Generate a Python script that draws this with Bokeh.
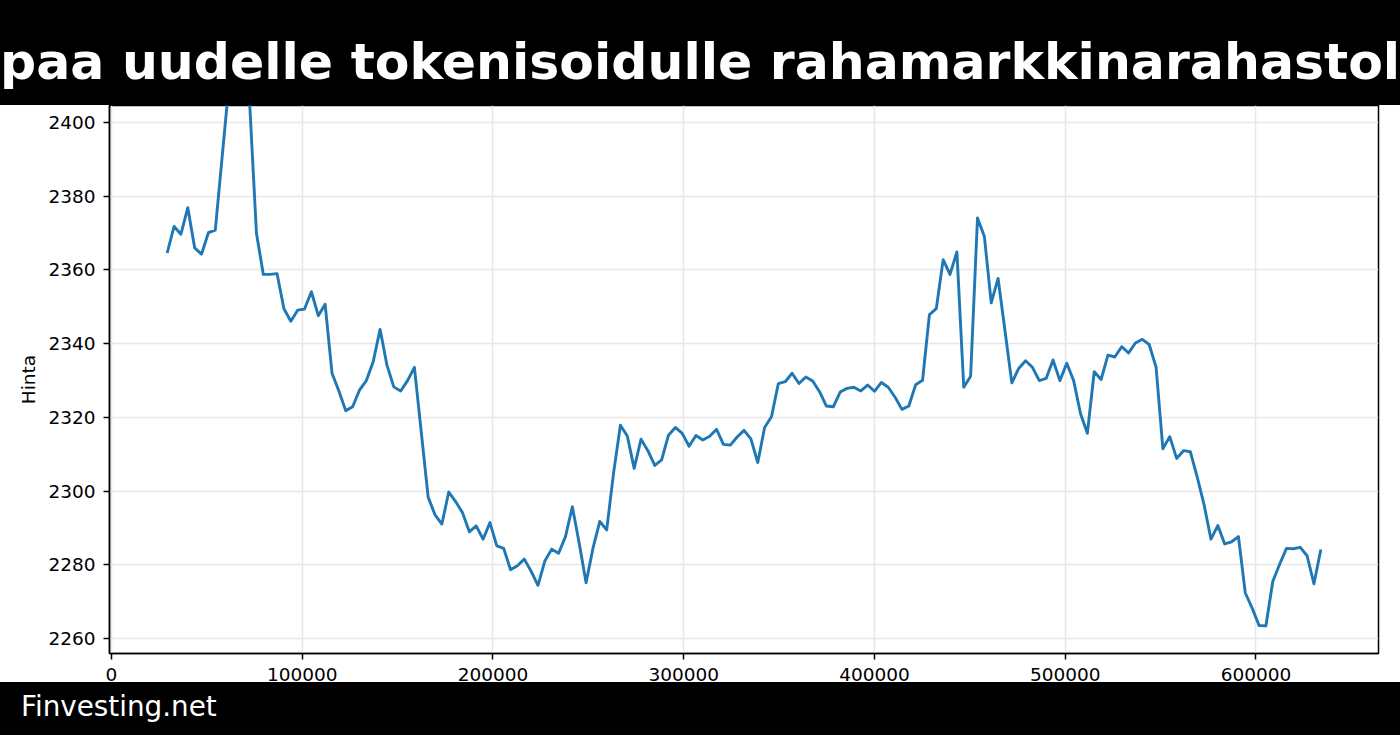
from bokeh.plotting import figure
from bokeh.models import Range1d, FixedTicker, BasicTickFormatter, Div
from bokeh.layouts import column
from bokeh.embed import file_html
from bokeh.resources import INLINE

title_text = "paa uudelle tokenisoidulle rahamarkkinarahastol"
footer_text = "Finvesting.net"
y_label = "Hinta"
x_ticks = [0, 100000, 200000, 300000, 400000, 500000, 600000]
y_ticks = [2260, 2280, 2300, 2320, 2340, 2360, 2380, 2400]

x_start = 29200
x_step = 3600
prices = [
    2364.6, 2371.8, 2369.7, 2376.9, 2366.0, 2364.3, 2370.1, 2370.8, 2390.6, 2410.5,
    2408.0, 2409.5, 2405.5, 2369.9, 2358.8, 2358.8, 2359.0, 2349.5, 2346.1, 2349.1,
    2349.4, 2354.1, 2347.6, 2350.7, 2332.0, 2327.2, 2321.8, 2322.9, 2327.4, 2330.0,
    2335.1, 2343.9, 2334.2, 2328.3, 2327.2, 2330.0, 2333.6, 2316.0, 2298.4, 2293.6,
    2291.1, 2299.8, 2297.2, 2294.2, 2289.0, 2290.6, 2287.0, 2291.5, 2285.2, 2284.5,
    2278.7, 2279.8, 2281.6, 2278.3, 2274.5, 2281.1, 2284.3, 2283.2, 2287.7, 2295.8,
    2285.9, 2275.2, 2284.5, 2291.8, 2289.5, 2304.9, 2317.9, 2315.0, 2306.2, 2314.1,
    2311.0, 2307.0, 2308.5, 2315.2, 2317.3, 2315.7, 2312.2, 2315.1, 2313.9, 2314.9,
    2316.8, 2312.7, 2312.5, 2314.7, 2316.5, 2314.2, 2307.8, 2317.3, 2320.2, 2329.2,
    2329.7, 2332.0, 2329.2, 2331.0, 2329.9, 2327.0, 2323.1, 2322.9, 2326.9, 2327.9,
    2328.2, 2327.2, 2328.8, 2327.1, 2329.5, 2328.2, 2325.5, 2322.2, 2323.1, 2328.9,
    2330.1, 2347.9, 2349.5, 2362.8, 2358.8, 2364.9, 2328.2, 2331.2, 2374.1, 2369.1,
    2351.1, 2357.7, 2343.6, 2329.4, 2333.3, 2335.4, 2333.6, 2330.0, 2330.6, 2335.6,
    2330.0, 2334.7, 2330.0, 2321.1, 2315.7, 2332.4, 2330.3, 2336.9, 2336.4, 2339.2,
    2337.5, 2340.2, 2341.2, 2339.8, 2333.7, 2311.5, 2314.8, 2308.9, 2311.0, 2310.7,
    2303.8, 2296.3, 2287.0, 2290.7, 2285.7, 2286.3, 2287.7, 2272.4, 2268.3, 2263.6,
    2263.5, 2275.5, 2280.2, 2284.5, 2284.4, 2284.8, 2282.5, 2274.9, 2284.2,
]
x_values = [x_start + x_step * i for i in range(len(prices))]

FONT = "DejaVu Sans"
W = 1400

header = Div(
    text=(
        f'<div style="width:{W}px;height:105px;overflow:hidden;background:#000;">'
        f'<div style="margin-left:0px;padding-top:37px;font-family:\'DejaVu Sans\';'
        f'font-weight:bold;font-size:50.5px;line-height:50.5px;color:#fff;white-space:nowrap;">'
        f'{title_text}</div></div>'
    ),
    width=W, height=105, margin=(0, 0, 0, 0),
    styles={"background-color": "#000", "overflow": "hidden"},
)

footer = Div(
    text=(
        f'<div style="width:{W}px;height:53px;overflow:hidden;background:#000;">'
        f'<div style="margin-left:21px;padding-top:11px;font-family:\'DejaVu Sans\';'
        f'font-size:27.8px;line-height:27.8px;color:#fff;white-space:nowrap;">'
        f'{footer_text}</div></div>'
    ),
    width=W, height=53, margin=(-7, 0, 0, 0),
    styles={"background-color": "#000", "overflow": "hidden",
            "position": "relative", "z-index": "10"},
)

p = figure(
    width=W, height=584,
    x_range=Range1d(-1050, 664230),
    y_range=Range1d(2256.0, 2404.6),
    output_backend="svg", toolbar_location=None,
    min_border_left=109, min_border_right=22,
    min_border_top=0, min_border_bottom=36,
)
p.background_fill_color = "white"
p.border_fill_color = "white"
p.outline_line_color = "black"
p.outline_line_width = 1.5

p.line(x_values, prices, line_color="#1f77b4", line_width=2.9, line_join="round")

p.xaxis.ticker = FixedTicker(ticks=x_ticks)
p.yaxis.ticker = FixedTicker(ticks=y_ticks)
p.xaxis.formatter = BasicTickFormatter(use_scientific=False)
p.yaxis.formatter = BasicTickFormatter(use_scientific=False)

for ax in (p.xaxis[0], p.yaxis[0]):
    ax.axis_line_color = "black"
    ax.axis_line_width = 1.5
    ax.major_tick_line_color = "black"
    ax.major_tick_line_width = 1.5
    ax.major_tick_out = 6
    ax.major_tick_in = 0
    ax.minor_tick_out = 0
    ax.minor_tick_in = 0
    ax.major_label_text_font = FONT
    ax.major_label_text_font_size = "18.5px"
    ax.major_label_text_color = "black"

p.xaxis.major_label_standoff = 8
p.yaxis.major_label_standoff = 8
p.yaxis.axis_label = y_label
p.yaxis.axis_label_text_font = FONT
p.yaxis.axis_label_text_font_size = "18.5px"
p.yaxis.axis_label_text_font_style = "normal"
p.yaxis.axis_label_text_color = "black"
p.yaxis.axis_label_standoff = 6

p.xgrid.grid_line_color = "#e7e7e7"
p.ygrid.grid_line_color = "#e7e7e7"
p.xgrid.grid_line_width = 1.5
p.ygrid.grid_line_width = 1.5

layout = column(header, p, footer, spacing=0)

with open("out.html", "w") as f:
    f.write(file_html(layout, INLINE, title="Hinta"))
